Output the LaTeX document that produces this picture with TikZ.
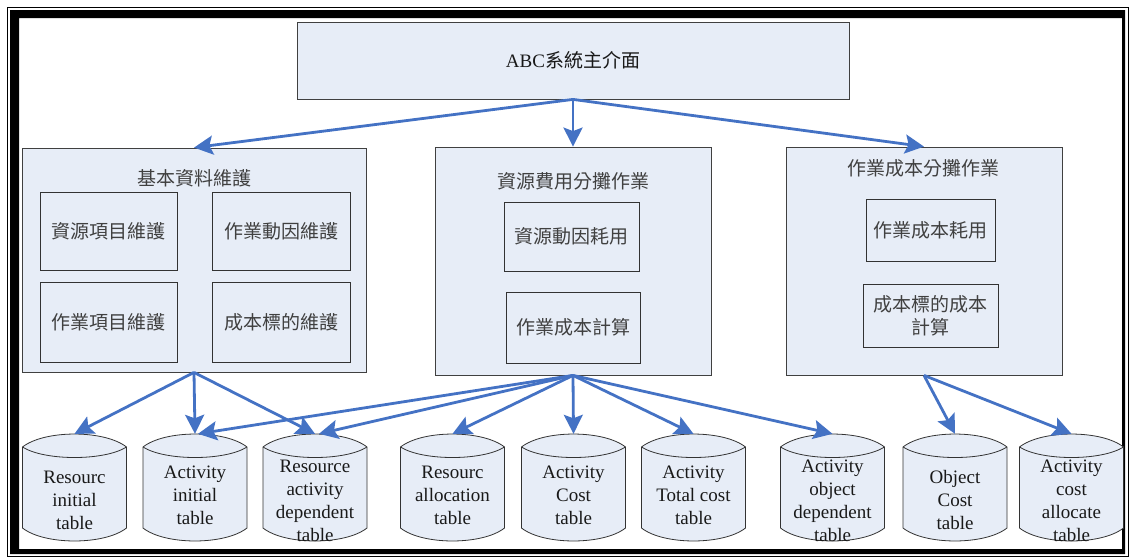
\documentclass[tikz,border=0pt]{standalone}
\usepackage{fontspec}
\setmainfont{Liberation Serif}
\newfontfamily\cjk{Noto Sans CJK TC}
\usetikzlibrary{arrows.meta}

\definecolor{boxfill}{RGB}{231,237,247}
\definecolor{flowblue}{RGB}{68,114,196}
\definecolor{inkgray}{RGB}{64,64,64}

\tikzset{
  panel/.style={draw=black!75, line width=0.8pt, fill=boxfill, inner sep=0pt},
  task/.style={draw=black!80, line width=0.8pt, fill=boxfill, inner sep=0pt,
    font=\cjk\fontsize{19}{23}\selectfont, text=inkgray, align=center},
  caption/.style={font=\cjk\fontsize{19}{23}\selectfont, text=inkgray, inner sep=0pt},
  flow/.style={draw=flowblue, line width=2.8pt,
    -{Stealth[length=19pt,width=19pt,inset=3.5pt]}},
  dbslot/.style={minimum width=104pt, minimum height=107pt, inner sep=0pt},
  dbtext/.style={font=\fontsize{19}{23}\selectfont, align=center, inner sep=0pt, text=black!90},
  dbshape/.style={draw=black!80, line width=0.8pt, fill=boxfill}
}

% database table drawn as a cylinder: name, centre x, text centre y, label
\newcommand\dbtable[4]{%
  \path[dbshape] (#2-52,447) .. controls (#2-30,429.7) and (#2+30,429.7) .. (#2+52,447)
    -- (#2+52,528) .. controls (#2+30,545.3) and (#2-30,545.3) .. (#2-52,528) -- cycle;
  \draw[black!80, line width=0.8pt] (#2-52,447) .. controls (#2-30,461) and (#2+30,461) .. (#2+52,447);
  \node[dbslot] (#1) at (#2,487.5) {};
  \node[dbtext] (#1-label) at (#2,#3) {#4};
}

\begin{document}
\begin{tikzpicture}[x=1pt,y=-1pt]
\useasboundingbox (0,0) rectangle (1132,558);

% page border: thin outer rule and heavy inner band
\draw[line width=1.6pt] (7.5,7.5) rectangle (1128.5,556.5);
\fill[even odd rule] (10,10) rectangle (1125,554) (19,18) rectangle (1122,549);

% main interface
\node[panel, minimum width=552pt, minimum height=77pt, font=\fontsize{19}{23}\selectfont, text=black!90]
  (main) at (573,60.5) {ABC{\cjk 系統主介面}};

% basic data maintenance
\node[panel, minimum width=344pt, minimum height=224pt] (basic) at (194,260) {};
\node[caption] (basic-title) at (194,178) {基本資料維護};
\node[task, minimum width=137pt, minimum height=78pt] (b1) at (108.5,231) {資源項目維護};
\node[task, minimum width=138pt, minimum height=78pt] (b2) at (281,231) {作業動因維護};
\node[task, minimum width=137pt, minimum height=80pt] (b3) at (108.5,322) {作業項目維護};
\node[task, minimum width=138pt, minimum height=80pt] (b4) at (281,322) {成本標的維護};

% resource cost allocation
\node[panel, minimum width=276pt, minimum height=228pt] (alloc) at (573,261) {};
\node[caption] (alloc-title) at (573,181) {資源費用分攤作業};
\node[task, minimum width=135pt, minimum height=69pt] (a1) at (571.5,236.5) {資源動因耗用};
\node[task, minimum width=134pt, minimum height=71pt] (a2) at (573,327.5) {作業成本計算};

% activity cost allocation
\node[panel, minimum width=276pt, minimum height=228pt] (costing) at (924,261) {};
\node[caption] (costing-title) at (923,168) {作業成本分攤作業};
\node[task, minimum width=129pt, minimum height=62pt] (c1) at (930.5,230) {作業成本耗用};
\node[task, minimum width=135pt, minimum height=63pt] (c2) at (930.5,315.5) {成本標的成本\\計算};

% database tables
\dbtable{t1}{74.5}{500}{Resourc\\initial\\table}
\dbtable{t2}{195}{495}{Activity\\initial\\table}
\dbtable{t3}{315}{500.5}{Resource\\activity\\dependent\\table}
\dbtable{t4}{452.5}{495}{Resourc\\allocation\\table}
\dbtable{t5}{573.5}{495}{Activity\\Cost\\table}
\dbtable{t6}{693.5}{495}{Activity\\Total cost\\table}
\dbtable{t7}{832.5}{501}{Activity\\object\\dependent\\table}
\dbtable{t8}{955}{500}{Object\\Cost\\table}
\dbtable{t9}{1071.5}{501}{Activity\\cost\\allocate\\table}

% connectors
\draw[flow] (main.south) -- (basic.north);
\draw[flow] (main.south) -- (alloc.north);
\draw[flow] (main.south) -- (costing.north);

\draw[flow] (basic.south) -- (t1.north);
\draw[flow] (basic.south) -- (t2.north);
\draw[flow] (basic.south) -- (t3.north);

\draw[flow] (alloc.south) -- ([xshift=3pt]t2.north);
\draw[flow] (alloc.south) -- ([xshift=4pt]t3.north);
\draw[flow] (alloc.south) -- (t4.north);
\draw[flow] (alloc.south) -- (t5.north);
\draw[flow] (alloc.south) -- (t6.north);
\draw[flow] (alloc.south) -- (t7.north);

\draw[flow] (costing.south) -- (t8.north);
\draw[flow] (costing.south) -- (t9.north);
\end{tikzpicture}
\end{document}
